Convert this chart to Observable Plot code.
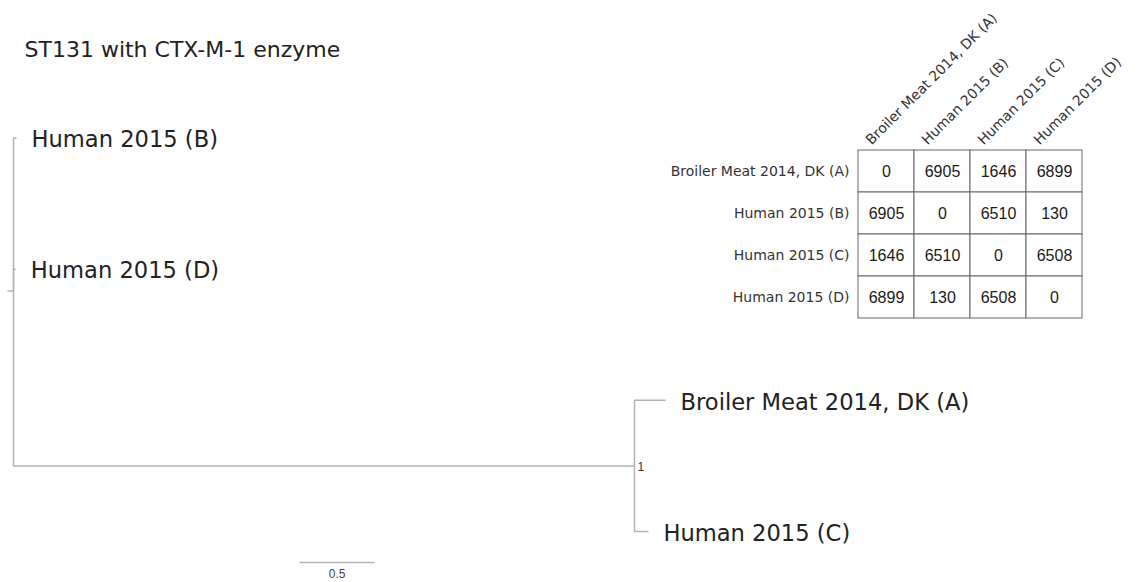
<!DOCTYPE html>
<html>
<head>
<meta charset="utf-8">
<script src="https://cdn.jsdelivr.net/npm/d3@7"></script>
<script src="https://cdn.jsdelivr.net/npm/@observablehq/plot@0.6"></script>
<style>
  html, body { margin: 0; padding: 0; background: #fff; }
  #wrap { position: relative; width: 1147px; height: 582px; }
  #wrap > svg { position: absolute; left: 0; top: 0; }
</style>
</head>
<body>
<div id="wrap"></div>
<script>
// ---- Data ----
const title = "ST131 with CTX-M-1 enzyme";

// Tree (branch lengths in substitutions/site units, scale bar 0.5)
const nodeIds       = ["root", "AC", "B", "D", "A", "C"];
const nodeParents   = [null, "root", "root", "root", "AC", "AC"];
const branchLengths = [0.04, 4.14, 0.02, 0.015, 0.207, 0.093];
const leafOrder     = ["B", "D", "A", "C"];
const leafLabels    = ["Human 2015 (B)", "Human 2015 (D)", "Broiler Meat 2014, DK (A)", "Human 2015 (C)"];
const supportNodes  = ["AC"];
const supportValues = ["1"];
const scaleBarLength = 0.5;
const scaleBarLabel = "0.5";

// SNP distance matrix
const matrixLabels = ["Broiler Meat 2014, DK (A)", "Human 2015 (B)", "Human 2015 (C)", "Human 2015 (D)"];
const snpDistances = [
  [0, 6905, 1646, 6899],
  [6905, 0, 6510, 130],
  [1646, 6510, 0, 6508],
  [6899, 130, 6508, 0]
];

// ---- Build tree layout from the arrays ----
const nodes = new Map(nodeIds.map((id, i) => [id, {id, parent: nodeParents[i], bl: branchLengths[i], children: []}]));
for (const n of nodes.values()) if (n.parent) nodes.get(n.parent).children.push(n);
const root = nodes.get("root");
(function setX(n, x) { n.x = x; n.children.forEach(c => setX(c, x + c.bl)); })(root, 0);
leafOrder.forEach((id, i) => { nodes.get(id).y = i; nodes.get(id).label = leafLabels[i]; });
(function setY(n) { if (n.children.length) { n.children.forEach(setY); n.y = d3.mean(n.children, c => c.y); } })(root);

const edges = [];
for (const n of nodes.values()) if (n.parent) {
  const p = nodes.get(n.parent);
  edges.push({x1: p.x, y1: p.y, x2: n.x, y2: n.y});
}
const rootStub = [{x1: root.x - root.bl, x2: root.x, y: root.y}];
const leaves = leafOrder.map(id => nodes.get(id));
const supports = supportNodes.map((id, i) => ({x: nodes.get(id).x, y: nodes.get(id).y, text: supportValues[i]}));
const scaleStart = 1.907;
const scaleBar = [{x1: scaleStart, x2: scaleStart + scaleBarLength, y: 3.236, text: scaleBarLabel}];

const treeColor = "#b3b3b3";
const sans = "'DejaVu Sans', Verdana, sans-serif";
const arial = "'Liberation Sans', Arial, sans-serif";

const treePlot = Plot.plot({
  width: 1147,
  height: 582,
  margin: 0,
  x: {type: "linear", domain: [0, 7], range: [13, 1063], axis: null},
  y: {type: "linear", domain: [0, 3], range: [137.5, 531], axis: null},
  style: {background: "transparent"},
  marks: [
    Plot.text([title], {frameAnchor: "top-left", textAnchor: "start", lineAnchor: "middle", dx: 24, dy: 49,
      fontSize: 22, fontFamily: sans, fill: "#222"}),
    Plot.link(edges, {x1: "x1", y1: "y1", x2: "x2", y2: "y2", curve: "step-before",
      stroke: treeColor, strokeWidth: 1.5}),
    Plot.link(rootStub, {x1: "x1", x2: "x2", y1: "y", y2: "y", stroke: treeColor, strokeWidth: 1.5}),
    Plot.text(leaves, {x: "x", y: "y", text: "label", textAnchor: "start", lineAnchor: "middle", dx: 15, dy: 2,
      fontSize: 22.6, fontFamily: sans, fill: "#222"}),
    Plot.text(supports, {x: "x", y: "y", text: "text", textAnchor: "start", lineAnchor: "middle", dx: 3, dy: 1,
      fontSize: 12, fontFamily: arial, fill: "#333"}),
    Plot.link(scaleBar, {x1: "x1", x2: "x2", y1: "y", y2: "y", stroke: treeColor, strokeWidth: 1.5}),
    Plot.text(scaleBar, {x: d => (d.x1 + d.x2) / 2, y: "y", text: "text", lineAnchor: "middle", dy: 12,
      fontSize: 12, fontFamily: arial, fill: "#444"})
  ]
});

const cells = [];
matrixLabels.forEach((r, i) => matrixLabels.forEach((c, j) => cells.push({row: r, col: c, value: snpDistances[i][j]})));

const matrixPlot = Plot.plot({
  width: 1147,
  height: 582,
  marginLeft: 857,
  marginRight: 64,
  marginTop: 150,
  marginBottom: 264,
  x: {type: "band", domain: matrixLabels, padding: 0, axis: null},
  y: {type: "band", domain: matrixLabels, padding: 0, axis: null},
  style: {background: "transparent", overflow: "visible"},
  marks: [
    Plot.cell(cells, {x: "col", y: "row", fill: "white", stroke: "#666", strokeWidth: 1, inset: 0}),
    Plot.text(cells, {x: "col", y: "row", text: d => String(d.value), fontSize: 16, fontFamily: arial, fill: "#1a1a1a"}),
    Plot.text(matrixLabels, {y: d => d, frameAnchor: "left", textAnchor: "end", lineAnchor: "middle", dx: -8,
      fontSize: 14, fontFamily: sans, fill: "#333"}),
    Plot.text(matrixLabels, {x: d => d, frameAnchor: "top", rotate: -45, textAnchor: "start", lineAnchor: "bottom",
      dx: -15, dy: -5, fontSize: 14, fontFamily: sans, fill: "#333"})
  ]
});

const wrap = document.getElementById("wrap");
wrap.appendChild(treePlot);
wrap.appendChild(matrixPlot);
</script>
</body>
</html>
